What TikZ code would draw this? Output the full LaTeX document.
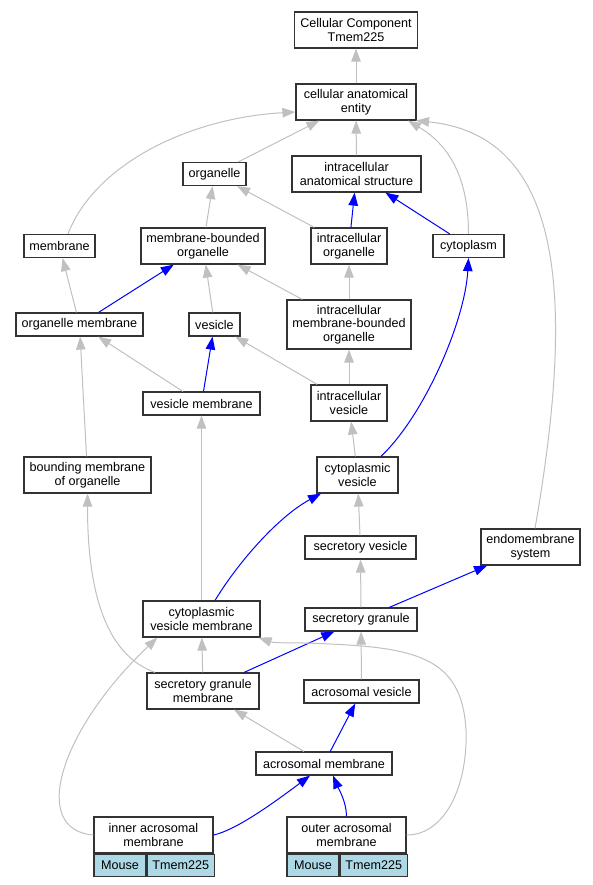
\documentclass[tikz,border=0pt]{standalone}
\usepackage{fontspec}
\setmainfont{Liberation Sans}
\usetikzlibrary{arrows.meta}
\definecolor{edgegray}{HTML}{C0C0C0}
\definecolor{cellblue}{HTML}{ADD8E6}

\begin{document}
\begin{tikzpicture}[x=1pt,y=-1pt,
	term/.style={draw=black!80, line width=1.2pt, align=center, inner sep=2pt, font=\fontsize{12.6}{13.5}\selectfont},
	one/.style={term, minimum height=23pt},
	two/.style={term, minimum height=36pt},
	three/.style={term, minimum height=49pt},
	cell/.style={term, fill=cellblue, minimum height=22pt, anchor=north west},
	isa/.style={draw=edgegray, line width=1pt, -{Triangle[length=13pt,width=9.5pt]}},
	partof/.style={isa, draw=blue}]
	\useasboundingbox (0,0) rectangle (593,885);
	% terms
	\node[two, minimum width=123pt] (cc) at (356,30) {Cellular Component\\Tmem225};
	\node[two, minimum width=120pt] (cae) at (356,102) {cellular anatomical\\entity};
	\node[one, minimum width=63pt] (organelle) at (214.5,174) {organelle};
	\node[two, minimum width=129pt] (ias) at (356.5,174) {intracellular\\anatomical structure};
	\node[one, minimum width=71pt] (membrane) at (59.5,246) {membrane};
	\node[two, minimum width=124pt] (mbo) at (203,246) {membrane-bounded\\organelle};
	\node[two, minimum width=76pt] (io) at (349,246) {intracellular\\organelle};
	\node[one, minimum width=71pt] (cytoplasm) at (468.5,246) {cytoplasm};
	\node[one, minimum width=127pt] (om) at (79.5,324.5) {organelle membrane};
	\node[one, minimum width=51pt] (vesicle) at (214.5,324.5) {vesicle};
	\node[three, minimum width=124pt] (imbo) at (349,324.5) {intracellular\\membrane-bounded\\organelle};
	\node[one, minimum width=117pt] (vm) at (201.5,403.5) {vesicle membrane};
	\node[two, minimum width=76pt] (iv) at (349,403) {intracellular\\vesicle};
	\node[two, minimum width=127pt] (bmo) at (87.5,475) {bounding membrane\\of organelle};
	\node[two, minimum width=81pt] (cv) at (357.5,475) {cytoplasmic\\vesicle};
	\node[one, minimum width=111pt] (sv) at (360.5,547.5) {secretory vesicle};
	\node[two, minimum width=99pt] (es) at (530.5,547) {endomembrane\\system};
	\node[two, minimum width=117pt] (cvm) at (201.5,619) {cytoplasmic\\vesicle membrane};
	\node[one, minimum width=112pt] (sg) at (361,619.5) {secretory granule};
	\node[two, minimum width=112pt] (sgm) at (203,691) {secretory granule\\membrane};
	\node[one, minimum width=115pt] (av) at (361.5,691.5) {acrosomal vesicle};
	\node[one, minimum width=136pt] (am) at (324,763.5) {acrosomal membrane};
	\node[two, minimum width=119pt] (iam) at (153.5,835) {inner acrosomal\\membrane};
	\node[two, minimum width=119pt] (oam) at (346.5,835) {outer acrosomal\\membrane};
	\node[cell, minimum width=52pt] (iamMouse) at (iam.south west) {Mouse};
	\node[cell, minimum width=67pt] (iamGene) at (iamMouse.north east) {Tmem225};
	\node[cell, minimum width=52pt] (oamMouse) at (oam.south west) {Mouse};
	\node[cell, minimum width=67pt] (oamGene) at (oamMouse.north east) {Tmem225};
	% is_a and part_of links
	\draw[isa] (cae) -- (cc);
	\draw[isa] ([xshift=8.5pt]membrane.north) .. controls +(27,-70) and +(-106,6) .. ([yshift=-10pt]cae.west);
	\draw[isa] (organelle) -- (cae);
	\draw[isa] (ias) -- (cae);
	\draw[isa] (cytoplasm.north) .. controls +(0,-55) and +(42,25) .. ([xshift=52pt]cae.south);
	\draw[isa] ([xshift=4.5pt]es.north) .. controls +(40,-229) and +(149,15) .. ([xshift=60pt]cae.south);
	\draw[isa] (mbo) -- (organelle);
	\draw[isa] (io) -- (organelle);
	\draw[partof] (io) -- (ias);
	\draw[partof] (cytoplasm) -- (ias);
	\draw[isa] (om) -- (membrane);
	\draw[partof] (om) -- (mbo);
	\draw[isa] (vesicle) -- (mbo);
	\draw[isa] (imbo) -- (mbo);
	\draw[isa] (imbo) -- (io);
	\draw[partof] ([xshift=23.5pt]cv.north) .. controls +(44,-42) and +(-3.5,62.5) .. (cytoplasm.south);
	\draw[isa] (vm) -- (om);
	\draw[partof] (vm) -- (vesicle);
	\draw[isa] (iv) -- (vesicle);
	\draw[isa] (iv) -- (imbo);
	\draw[isa] (bmo) -- (om);
	\draw[isa] (cv) -- (iv);
	\draw[isa] (sv) -- (cv);
	\draw[isa] (cvm) -- (vm);
	\draw[partof] ([xshift=13.5pt]cvm.north) .. controls +(25,-41) and +(-41,22) .. ([xshift=-36.5pt]cv.south);
	\draw[isa] (sg) -- (sv);
	\draw[partof] (sg) -- (es);
	\draw[isa] ([xshift=-48pt]sgm.north) .. controls +(-50,-18) and +(0,97) .. (bmo.south);
	\draw[isa] (sgm) -- (cvm);
	\draw[partof] (sgm) -- (sg);
	\draw[isa] (av) -- (sg);
	\draw[isa] (am) -- (sgm);
	\draw[partof] (am) -- (av);
	\draw[isa] (iam.west) .. controls +(-64,-5) and +(-98,93) .. ([xshift=15pt]cvm.south west);
	\draw[partof] (iam.east) .. controls +(22,-5) and +(-40,30) .. ([xshift=-14pt]am.south);
	\draw[partof] (oam.north) .. controls +(0,-15) and +(5,12) .. ([xshift=9pt]am.south);
	\draw[isa] (oam.east) .. controls +(39,0) and +(2,55) .. (466,730) .. controls +(-4,-70) and +(90,4) .. (330,644) .. controls +(-35,-2) and +(17,6) .. ([xshift=-2pt]cvm.south east);
\end{tikzpicture}
\end{document}
